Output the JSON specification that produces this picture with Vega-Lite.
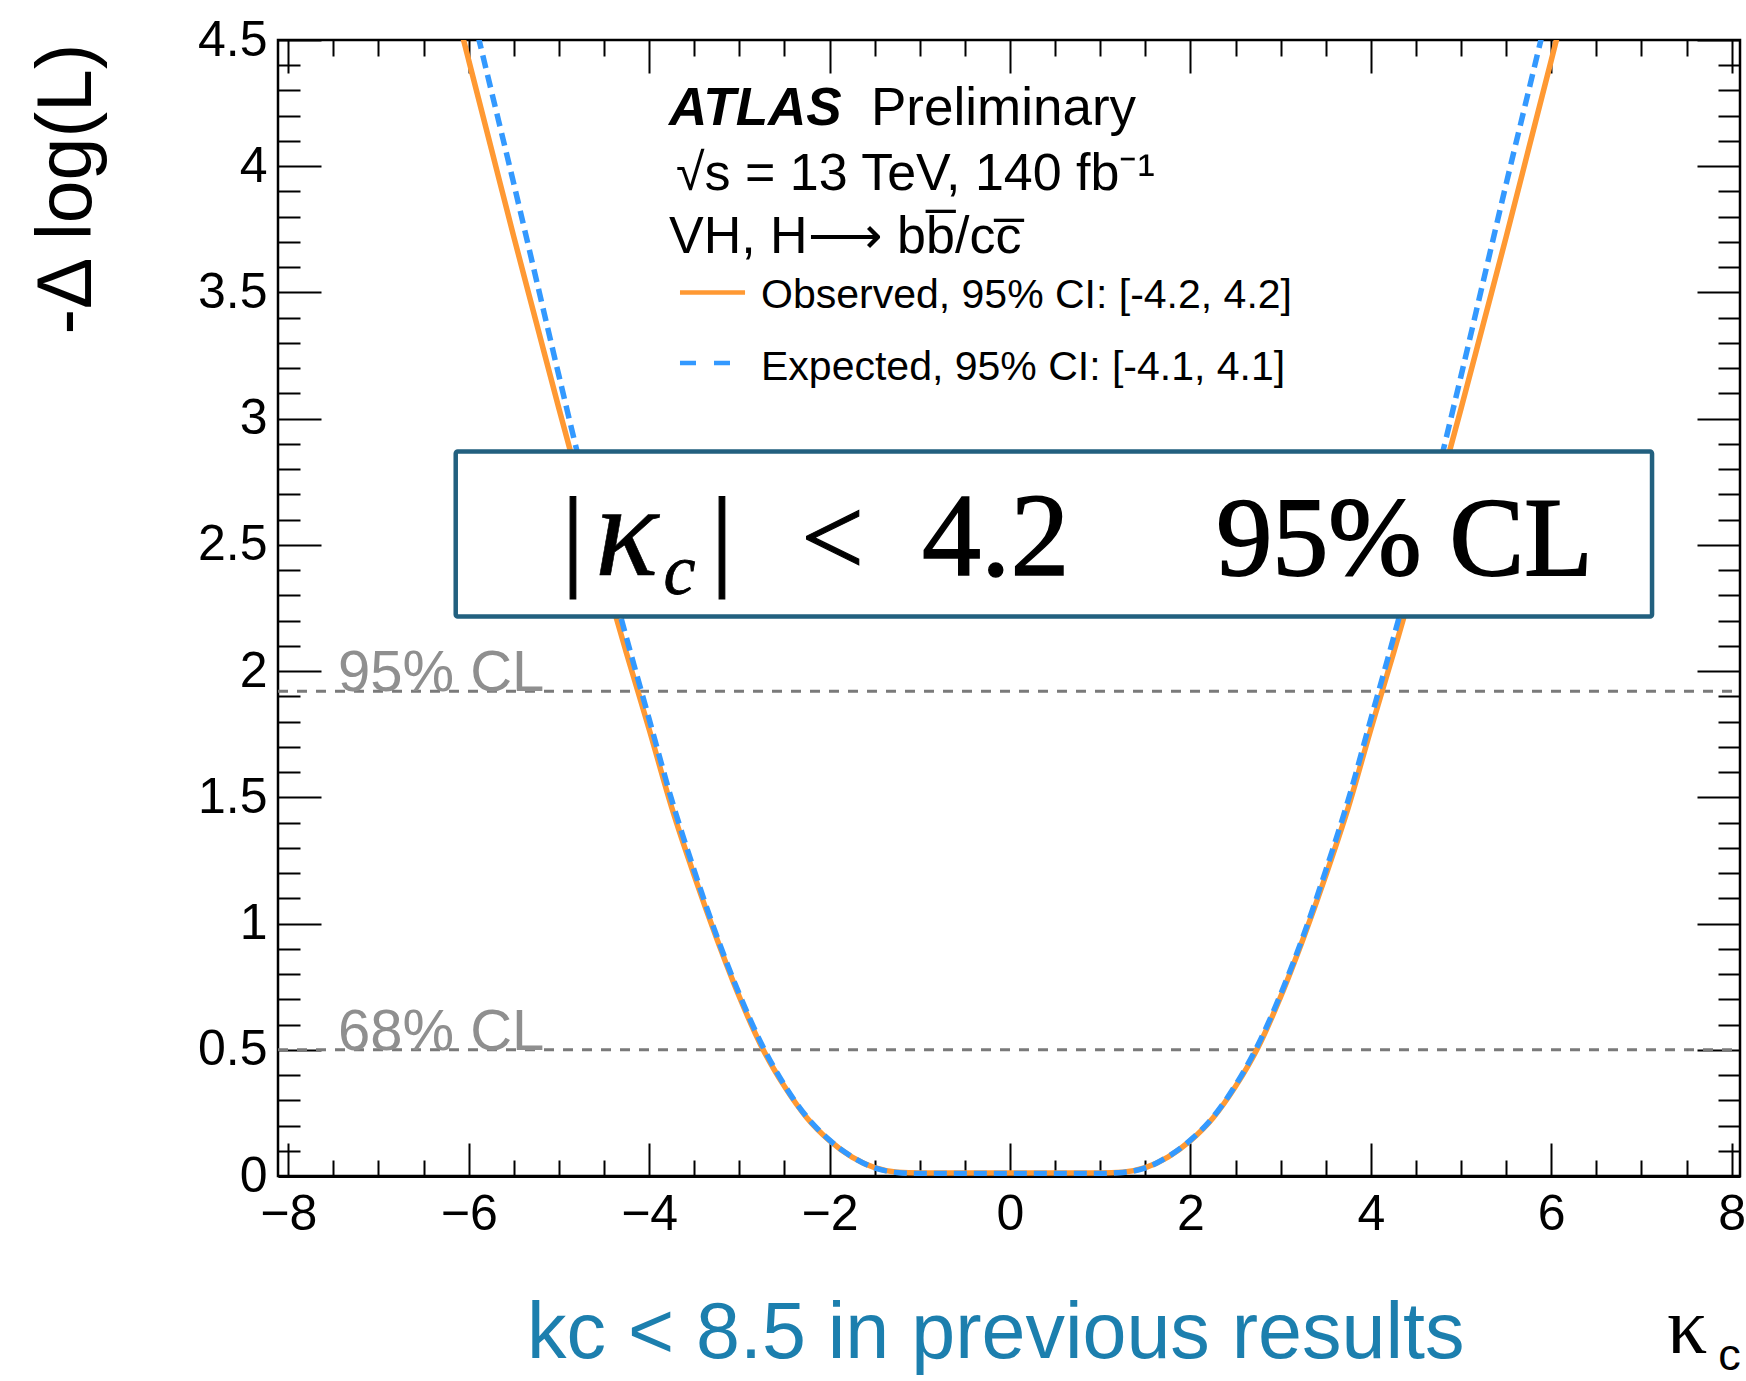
{
  "$schema": "https://vega.github.io/schema/vega-lite/v6.json",
  "width": 1462,
  "height": 1136,
  "autosize": {"type": "none"},
  "padding": {"left": 278, "top": 40, "right": 6, "bottom": 205},
  "background": "white",
  "config": {
    "view": {"stroke": "black", "strokeWidth": 2.5},
    "axis": {"grid": false, "domain": false, "tickColor": "black", "tickWidth": 2, "labelFont": "Liberation Sans", "labelFontSize": 50, "labelColor": "black", "labelFlush": false, "labelOverlap": false, "labelBound": false}
  },
  "data": {"values": [{}]},
  "datasets": {
    "cl": [{"label": "95% CL", "level": 1.92}, {"label": "68% CL", "level": 0.5}],
    "observed": [
      {"kappa": -6.1, "nll": 4.56}, {"kappa": -6.0, "nll": 4.42}, {"kappa": -5.75, "nll": 4.07}, {"kappa": -5.5, "nll": 3.72},
      {"kappa": -5.25, "nll": 3.38}, {"kappa": -5.0, "nll": 3.04}, {"kappa": -4.75, "nll": 2.71}, {"kappa": -4.5, "nll": 2.38},
      {"kappa": -4.25, "nll": 2.07}, {"kappa": -4.0, "nll": 1.77}, {"kappa": -3.75, "nll": 1.46}, {"kappa": -3.5, "nll": 1.19},
      {"kappa": -3.25, "nll": 0.94}, {"kappa": -3.0, "nll": 0.71}, {"kappa": -2.75, "nll": 0.51}, {"kappa": -2.5, "nll": 0.355},
      {"kappa": -2.25, "nll": 0.23}, {"kappa": -2.0, "nll": 0.14}, {"kappa": -1.75, "nll": 0.075}, {"kappa": -1.5, "nll": 0.033},
      {"kappa": -1.25, "nll": 0.015}, {"kappa": -1.0, "nll": 0.012}, {"kappa": -0.5, "nll": 0.012}, {"kappa": 0.0, "nll": 0.012},
      {"kappa": 0.5, "nll": 0.012}, {"kappa": 1.0, "nll": 0.012}, {"kappa": 1.25, "nll": 0.015}, {"kappa": 1.5, "nll": 0.033},
      {"kappa": 1.75, "nll": 0.075}, {"kappa": 2.0, "nll": 0.14}, {"kappa": 2.25, "nll": 0.23}, {"kappa": 2.5, "nll": 0.355},
      {"kappa": 2.75, "nll": 0.51}, {"kappa": 3.0, "nll": 0.71}, {"kappa": 3.25, "nll": 0.94}, {"kappa": 3.5, "nll": 1.19},
      {"kappa": 3.75, "nll": 1.46}, {"kappa": 4.0, "nll": 1.77}, {"kappa": 4.25, "nll": 2.07}, {"kappa": 4.5, "nll": 2.38},
      {"kappa": 4.75, "nll": 2.71}, {"kappa": 5.0, "nll": 3.04}, {"kappa": 5.25, "nll": 3.38}, {"kappa": 5.5, "nll": 3.72},
      {"kappa": 5.75, "nll": 4.07}, {"kappa": 6.0, "nll": 4.42}, {"kappa": 6.1, "nll": 4.56}
    ],
    "expected": [
      {"kappa": -6.0, "nll": 4.67}, {"kappa": -5.75, "nll": 4.30}, {"kappa": -5.5, "nll": 3.93}, {"kappa": -5.25, "nll": 3.55},
      {"kappa": -5.0, "nll": 3.17}, {"kappa": -4.75, "nll": 2.80}, {"kappa": -4.5, "nll": 2.46}, {"kappa": -4.25, "nll": 2.13},
      {"kappa": -4.0, "nll": 1.81}, {"kappa": -3.75, "nll": 1.49}, {"kappa": -3.5, "nll": 1.21}, {"kappa": -3.25, "nll": 0.95},
      {"kappa": -3.0, "nll": 0.72}, {"kappa": -2.75, "nll": 0.52}, {"kappa": -2.5, "nll": 0.36}, {"kappa": -2.25, "nll": 0.233},
      {"kappa": -2.0, "nll": 0.142}, {"kappa": -1.75, "nll": 0.076}, {"kappa": -1.5, "nll": 0.032}, {"kappa": -1.25, "nll": 0.014},
      {"kappa": -1.0, "nll": 0.01}, {"kappa": -0.5, "nll": 0.01}, {"kappa": 0.0, "nll": 0.01}, {"kappa": 0.5, "nll": 0.01},
      {"kappa": 1.0, "nll": 0.01}, {"kappa": 1.25, "nll": 0.014}, {"kappa": 1.5, "nll": 0.032}, {"kappa": 1.75, "nll": 0.076},
      {"kappa": 2.0, "nll": 0.142}, {"kappa": 2.25, "nll": 0.233}, {"kappa": 2.5, "nll": 0.36}, {"kappa": 2.75, "nll": 0.52},
      {"kappa": 3.0, "nll": 0.72}, {"kappa": 3.25, "nll": 0.95}, {"kappa": 3.5, "nll": 1.21}, {"kappa": 3.75, "nll": 1.49},
      {"kappa": 4.0, "nll": 1.81}, {"kappa": 4.25, "nll": 2.13}, {"kappa": 4.5, "nll": 2.46}, {"kappa": 4.75, "nll": 2.80},
      {"kappa": 5.0, "nll": 3.17}, {"kappa": 5.25, "nll": 3.55}, {"kappa": 5.5, "nll": 3.93}, {"kappa": 5.75, "nll": 4.30},
      {"kappa": 6.0, "nll": 4.67}
    ]
  },
  "resolve": {"axis": {"x": "independent", "y": "independent"}},
  "layer": [
    {
      "data": {"name": "cl"},
      "mark": {"type": "rule", "color": "#7a7a7a", "strokeWidth": 3, "strokeDash": [10, 9]},
      "encoding": {
        "x": {"datum": -8.114, "type": "quantitative", "scale": {"domain": [-8.114, 8.092], "nice": false, "zero": false},
              "axis": {"orient": "top", "values": [-8, -6, -4, -2, 0, 2, 4, 6, 8], "tickSize": -33, "labels": false, "title": null}},
        "x2": {"datum": 8.092},
        "y": {"field": "level", "type": "quantitative", "scale": {"domain": [0, 4.5], "nice": false, "zero": false},
              "axis": {"orient": "right", "values": [0, 0.5, 1, 1.5, 2, 2.5, 3, 3.5, 4, 4.5], "tickSize": -43, "labels": false, "title": null}}
      }
    },
    {
      "data": {"name": "cl"},
      "mark": {"type": "text", "font": "Liberation Sans", "fontSize": 58, "color": "#8f8f8f", "align": "left", "baseline": "alphabetic"},
      "encoding": {
        "x": {"datum": -7.449, "type": "quantitative", "scale": {"domain": [-8.114, 8.092], "nice": false, "zero": false},
              "axis": {"orient": "top", "values": [-7.5, -7, -6.5, -5.5, -5, -4.5, -3.5, -3, -2.5, -1.5, -1, -0.5, 0.5, 1, 1.5, 2.5, 3, 3.5, 4.5, 5, 5.5, 6.5, 7, 7.5], "tickSize": -16, "labels": false, "title": null}},
        "y": {"field": "level", "type": "quantitative", "scale": {"domain": [0, 4.5], "nice": false, "zero": false},
              "axis": {"orient": "right", "values": [0.1, 0.2, 0.3, 0.4, 0.6, 0.7, 0.8, 0.9, 1.1, 1.2, 1.3, 1.4, 1.6, 1.7, 1.8, 1.9, 2.1, 2.2, 2.3, 2.4, 2.6, 2.7, 2.8, 2.9, 3.1, 3.2, 3.3, 3.4, 3.6, 3.7, 3.8, 3.9, 4.1, 4.2, 4.3, 4.4], "tickSize": -22, "labels": false, "title": null}},
        "text": {"field": "label"}
      }
    },
    {
      "data": {"name": "observed"},
      "mark": {"type": "line", "color": "#ff9933", "strokeWidth": 5.5, "clip": true, "interpolate": "monotone"},
      "encoding": {
        "x": {"field": "kappa", "type": "quantitative", "scale": {"domain": [-8.114, 8.092], "nice": false, "zero": false},
              "axis": {"orient": "bottom", "values": [-8, -6, -4, -2, 0, 2, 4, 6, 8], "format": "~g", "tickSize": -33, "labelPadding": 46, "domain": true, "domainColor": "black", "domainWidth": 3, "title": null}},
        "y": {"field": "nll", "type": "quantitative", "scale": {"domain": [0, 4.5], "nice": false, "zero": false},
              "axis": {"orient": "left", "values": [0, 0.5, 1, 1.5, 2, 2.5, 3, 3.5, 4, 4.5], "format": "~g", "tickSize": -43, "labelPadding": 54,
                       "title": "-Δ log(L)", "titleFont": "Liberation Sans", "titleFontSize": 77, "titleFontWeight": "normal", "titleColor": "black",
                       "titleAngle": 270, "titleAlign": "right", "titleBaseline": "bottom", "titleX": -172, "titleY": 3}}
      }
    },
    {
      "data": {"name": "expected"},
      "mark": {"type": "line", "color": "#3399ff", "strokeWidth": 5.5, "strokeDash": [13, 7], "clip": true, "interpolate": "monotone"},
      "encoding": {
        "x": {"field": "kappa", "type": "quantitative", "scale": {"domain": [-8.114, 8.092], "nice": false, "zero": false},
              "axis": {"orient": "bottom", "values": [-7.5, -7, -6.5, -5.5, -5, -4.5, -3.5, -3, -2.5, -1.5, -1, -0.5, 0.5, 1, 1.5, 2.5, 3, 3.5, 4.5, 5, 5.5, 6.5, 7, 7.5], "tickSize": -16, "labels": false, "title": null}},
        "y": {"field": "nll", "type": "quantitative", "scale": {"domain": [0, 4.5], "nice": false, "zero": false},
              "axis": {"orient": "left", "values": [0.1, 0.2, 0.3, 0.4, 0.6, 0.7, 0.8, 0.9, 1.1, 1.2, 1.3, 1.4, 1.6, 1.7, 1.8, 1.9, 2.1, 2.2, 2.3, 2.4, 2.6, 2.7, 2.8, 2.9, 3.1, 3.2, 3.3, 3.4, 3.6, 3.7, 3.8, 3.9, 4.1, 4.2, 4.3, 4.4], "tickSize": -22, "labels": false, "title": null}}
      }
    },
    {
      "mark": {"type": "rect", "fill": "white", "stroke": "#22607f", "strokeWidth": 4.5, "cornerRadius": 2},
      "encoding": {
        "x": {"datum": -6.144, "type": "quantitative", "axis": null},
        "x2": {"datum": 7.117},
        "y": {"datum": 2.87, "type": "quantitative", "axis": null},
        "y2": {"datum": 2.216}
      }
    },
    {
      "mark": {"type": "text", "text": "|", "font": "Liberation Serif", "fontSize": 112, "color": "black", "stroke": "black", "strokeWidth": 1.2, "align": "center", "baseline": "alphabetic"},
      "encoding": {"x": {"datum": -4.844, "type": "quantitative", "axis": null}, "y": {"datum": 2.381, "type": "quantitative", "axis": null}}
    },
    {
      "mark": {"type": "text", "text": "κ", "font": "Liberation Serif", "fontSize": 132, "fontStyle": "italic", "color": "black", "stroke": "black", "strokeWidth": 0.6, "align": "left", "baseline": "alphabetic"},
      "encoding": {"x": {"datum": -4.6, "type": "quantitative", "axis": null}, "y": {"datum": 2.381, "type": "quantitative", "axis": null}}
    },
    {
      "mark": {"type": "text", "text": "c", "font": "Liberation Serif", "fontSize": 72, "fontStyle": "italic", "color": "black", "stroke": "black", "strokeWidth": 0.8, "align": "left", "baseline": "alphabetic"},
      "encoding": {"x": {"datum": -3.84, "type": "quantitative", "axis": null}, "y": {"datum": 2.305, "type": "quantitative", "axis": null}}
    },
    {
      "mark": {"type": "text", "text": "|", "font": "Liberation Serif", "fontSize": 112, "color": "black", "stroke": "black", "strokeWidth": 1.2, "align": "center", "baseline": "alphabetic"},
      "encoding": {"x": {"datum": -3.193, "type": "quantitative", "axis": null}, "y": {"datum": 2.381, "type": "quantitative", "axis": null}}
    },
    {
      "mark": {"type": "text", "text": "<", "font": "Liberation Serif", "fontSize": 112, "color": "black", "stroke": "black", "strokeWidth": 1.2, "align": "left", "baseline": "alphabetic"},
      "encoding": {"x": {"datum": -2.316, "type": "quantitative", "axis": null}, "y": {"datum": 2.381, "type": "quantitative", "axis": null}}
    },
    {
      "mark": {"type": "text", "text": "4.2", "font": "Liberation Serif", "fontSize": 118, "color": "black", "stroke": "black", "strokeWidth": 1.5, "align": "left", "baseline": "alphabetic"},
      "encoding": {"x": {"datum": -0.975, "type": "quantitative", "axis": null}, "y": {"datum": 2.381, "type": "quantitative", "axis": null}}
    },
    {
      "mark": {"type": "text", "text": "95% CL", "font": "Liberation Serif", "fontSize": 112, "color": "black", "stroke": "black", "strokeWidth": 1.8, "align": "left", "baseline": "alphabetic"},
      "encoding": {"x": {"datum": 2.286, "type": "quantitative", "axis": null}, "y": {"datum": 2.381, "type": "quantitative", "axis": null}}
    },
    {
      "mark": {"type": "text", "text": "ATLAS", "font": "Liberation Sans", "fontSize": 53, "fontWeight": "bold", "fontStyle": "italic", "color": "black", "align": "left", "baseline": "alphabetic"},
      "encoding": {"x": {"datum": -3.78, "type": "quantitative", "axis": null}, "y": {"datum": 4.164, "type": "quantitative", "axis": null}}
    },
    {
      "mark": {"type": "text", "text": "Preliminary", "font": "Liberation Sans", "fontSize": 53, "color": "black", "align": "left", "baseline": "alphabetic"},
      "encoding": {"x": {"datum": -1.541, "type": "quantitative", "axis": null}, "y": {"datum": 4.164, "type": "quantitative", "axis": null}}
    },
    {
      "mark": {"type": "text", "text": "√s = 13 TeV, 140 fb⁻¹", "font": "Liberation Sans", "fontSize": 52, "color": "black", "align": "left", "baseline": "alphabetic"},
      "encoding": {"x": {"datum": -3.702, "type": "quantitative", "axis": null}, "y": {"datum": 3.906, "type": "quantitative", "axis": null}}
    },
    {
      "mark": {"type": "text", "text": "VH, H⟶ bb̅/cc̅", "font": "Liberation Sans", "fontSize": 52, "color": "black", "align": "left", "baseline": "alphabetic"},
      "encoding": {"x": {"datum": -3.78, "type": "quantitative", "axis": null}, "y": {"datum": 3.657, "type": "quantitative", "axis": null}}
    },
    {
      "mark": {"type": "rule", "color": "#ff9933", "strokeWidth": 4.5},
      "encoding": {"x": {"datum": -3.658, "type": "quantitative", "axis": null}, "x2": {"datum": -2.937}, "y": {"datum": 3.5, "type": "quantitative", "axis": null}}
    },
    {
      "mark": {"type": "rule", "color": "#3399ff", "strokeWidth": 4.5, "strokeDash": [16, 18]},
      "encoding": {"x": {"datum": -3.658, "type": "quantitative", "axis": null}, "x2": {"datum": -3.081}, "y": {"datum": 3.221, "type": "quantitative", "axis": null}}
    },
    {
      "mark": {"type": "text", "text": "Observed, 95% CI: [-4.2, 4.2]", "font": "Liberation Sans", "fontSize": 41, "color": "black", "align": "left", "baseline": "alphabetic"},
      "encoding": {"x": {"datum": -2.76, "type": "quantitative", "axis": null}, "y": {"datum": 3.439, "type": "quantitative", "axis": null}}
    },
    {
      "mark": {"type": "text", "text": "Expected, 95% CI: [-4.1, 4.1]", "font": "Liberation Sans", "fontSize": 41, "color": "black", "align": "left", "baseline": "alphabetic"},
      "encoding": {"x": {"datum": -2.76, "type": "quantitative", "axis": null}, "y": {"datum": 3.154, "type": "quantitative", "axis": null}}
    },
    {
      "mark": {"type": "text", "text": "kc < 8.5 in previous results", "font": "Liberation Sans", "fontSize": 79, "color": "#1c7fae", "align": "left", "baseline": "alphabetic"},
      "encoding": {"x": {"datum": -5.354, "type": "quantitative", "axis": null}, "y": {"datum": -0.722, "type": "quantitative", "axis": null}}
    },
    {
      "mark": {"type": "text", "text": "κ", "font": "Liberation Serif", "fontSize": 80, "color": "black", "align": "left", "baseline": "alphabetic"},
      "encoding": {"x": {"datum": 7.284, "type": "quantitative", "axis": null}, "y": {"datum": -0.701, "type": "quantitative", "axis": null}}
    },
    {
      "mark": {"type": "text", "text": "c", "font": "Liberation Sans", "fontSize": 45, "color": "black", "align": "left", "baseline": "alphabetic"},
      "encoding": {"x": {"datum": 7.85, "type": "quantitative", "axis": null}, "y": {"datum": -0.769, "type": "quantitative", "axis": null}}
    }
  ]
}
